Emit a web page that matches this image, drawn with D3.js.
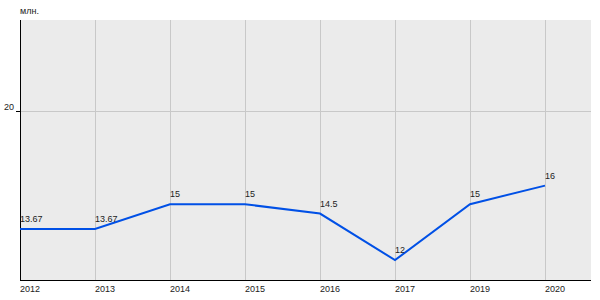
<!DOCTYPE html>
<html>
<head>
<meta charset="utf-8">
<script src="https://cdn.jsdelivr.net/npm/d3@7"></script>
<style>
  body { margin: 0; background: #fff; }
  text { font-family: Arial, "Liberation Sans", sans-serif; font-size: 9px; fill: #222; }
</style>
</head>
<body>
<script>
// chart data
const years = ['2012', '2013', '2014', '2015', '2016', '2017', '2019', '2020'];
const values = [13.67, 13.67, 15, 15, 14.5, 12, 15, 16];
const valueLabels = ['13.67', '13.67', '15', '15', '14.5', '12', '15', '16'];
const yTicks = [20];
const yUnit = 'млн.';

const width = 600;
const height = 300;
const margin = {top: 20, right: 9, bottom: 20, left: 20};

const svg = d3.select('body')
    .append('svg')
    .attr('width', width)
    .attr('height', height);

const x = d3.scalePoint()
    .domain(years)
    .range([margin.left, margin.left + 75 * (years.length - 1)]);

const y = d3.scaleLinear()
    .domain([10.93, 24.9])
    .range([height - margin.bottom, margin.top]);

// plot background
svg.append('rect')
    .attr('x', margin.left)
    .attr('y', margin.top)
    .attr('width', width - margin.left - margin.right)
    .attr('height', height - margin.top - margin.bottom)
    .attr('fill', '#ebebeb');

// vertical grid lines
svg.append('g')
    .selectAll('line')
    .data(years.slice(1))
    .enter()
    .append('line')
    .attr('x1', d => Math.round(x(d)) + 0.5)
    .attr('x2', d => Math.round(x(d)) + 0.5)
    .attr('y1', margin.top)
    .attr('y2', height - margin.bottom)
    .attr('stroke', '#c8c8c8');

// horizontal grid lines + y ticks
const yg = svg.append('g');
yg.selectAll('line.grid')
    .data(yTicks)
    .enter()
    .append('line')
    .attr('class', 'grid')
    .attr('x1', margin.left)
    .attr('x2', width - margin.right)
    .attr('y1', d => Math.round(y(d)) + 0.5)
    .attr('y2', d => Math.round(y(d)) + 0.5)
    .attr('stroke', '#c8c8c8');
yg.selectAll('line.tick')
    .data(yTicks)
    .enter()
    .append('line')
    .attr('class', 'tick')
    .attr('x1', margin.left - 4)
    .attr('x2', margin.left)
    .attr('y1', d => Math.round(y(d)) + 0.5)
    .attr('y2', d => Math.round(y(d)) + 0.5)
    .attr('stroke', '#000');
yg.selectAll('text')
    .data(yTicks)
    .enter()
    .append('text')
    .attr('x', margin.left - 6)
    .attr('y', d => y(d) - 1)
    .attr('text-anchor', 'end')
    .text(d => d);

// axes lines
svg.append('line')
    .attr('x1', margin.left + 0.5).attr('x2', margin.left + 0.5)
    .attr('y1', margin.top).attr('y2', height - margin.bottom)
    .attr('stroke', '#000');
svg.append('line')
    .attr('x1', margin.left).attr('x2', width - margin.right)
    .attr('y1', height - margin.bottom + 0.5).attr('y2', height - margin.bottom + 0.5)
    .attr('stroke', '#000');

// unit label
svg.append('text')
    .attr('x', margin.left)
    .attr('y', 14)
    .text(yUnit);

// x labels
svg.append('g')
    .selectAll('text')
    .data(years)
    .enter()
    .append('text')
    .attr('x', d => x(d))
    .attr('y', height - 8)
    .text(d => d);

// line
const line = d3.line()
    .x((d, i) => x(years[i]))
    .y(d => y(d));

svg.append('path')
    .datum(values)
    .attr('d', line)
    .attr('fill', 'none')
    .attr('stroke', '#0050e6')
    .attr('stroke-width', 2);

// value labels
svg.append('g')
    .selectAll('text')
    .data(values)
    .enter()
    .append('text')
    .attr('x', (d, i) => x(years[i]))
    .attr('y', d => y(d) - 7)
    .text((d, i) => valueLabels[i]);
</script>
</body>
</html>
